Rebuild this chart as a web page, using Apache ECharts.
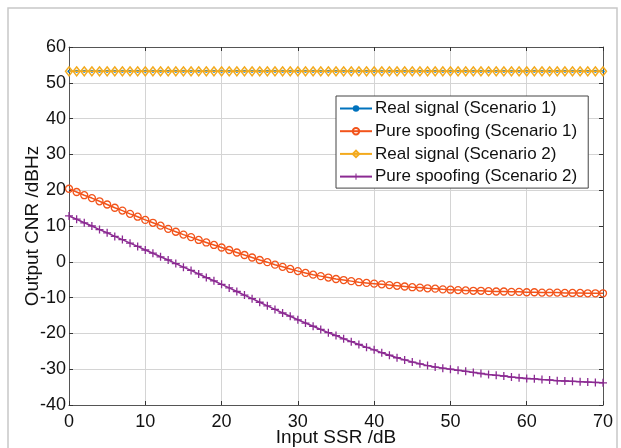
<!DOCTYPE html>
<html>
<head>
<meta charset="utf-8">
<script src="https://cdn.jsdelivr.net/npm/echarts@6/dist/echarts.min.js"></script>
<style>
html,body{margin:0;padding:0;background:#fff;}
#chart{width:621px;height:448px;}
</style>
</head>
<body>
<div id="chart"></div>
<script>
// Input SSR (dB)
var ssr = [];
for (var i = 0; i <= 70; i++) ssr.push(i);

var seriesNames = ['Real signal (Scenario 1)', 'Pure spoofing (Scenario 1)', 'Real signal (Scenario 2)', 'Pure spoofing (Scenario 2)'];

var realS1 = [53.2,53.2,53.2,53.2,53.2,53.2,53.2,53.2,53.2,53.2,53.2,53.2,53.2,53.2,53.2,53.2,53.2,53.2,53.2,53.2,53.2,53.2,53.2,53.2,53.2,53.2,53.2,53.2,53.2,53.2,53.2,53.2,53.2,53.2,53.2,53.2,53.2,53.2,53.2,53.2,53.2,53.2,53.2,53.2,53.2,53.2,53.2,53.2,53.2,53.2,53.2,53.2,53.2,53.2,53.2,53.2,53.2,53.2,53.2,53.2,53.2,53.2,53.2,53.2,53.2,53.2,53.2,53.2,53.2,53.2,53.2];

var spoofS1 = [20.4,19.5,18.6,17.8,16.9,16.0,15.1,14.3,13.4,12.6,
  11.7,10.9,10.1,9.2,8.4,7.6,6.9,6.1,5.4,4.7,
  4.0,3.3,2.6,1.9,1.2,0.5,-0.1,-0.8,-1.4,-2.0,
  -2.6,-3.1,-3.6,-4.0,-4.4,-4.8,-5.1,-5.4,-5.7,-5.9,
  -6.1,-6.3,-6.5,-6.7,-6.9,-7.1,-7.2,-7.4,-7.5,-7.7,
  -7.8,-7.9,-8.0,-8.1,-8.1,-8.2,-8.3,-8.3,-8.4,-8.4,
  -8.5,-8.5,-8.6,-8.6,-8.6,-8.7,-8.7,-8.7,-8.8,-8.8,-8.8];

var realS2 = [53.2,53.2,53.2,53.2,53.2,53.2,53.2,53.2,53.2,53.2,53.2,53.2,53.2,53.2,53.2,53.2,53.2,53.2,53.2,53.2,53.2,53.2,53.2,53.2,53.2,53.2,53.2,53.2,53.2,53.2,53.2,53.2,53.2,53.2,53.2,53.2,53.2,53.2,53.2,53.2,53.2,53.2,53.2,53.2,53.2,53.2,53.2,53.2,53.2,53.2,53.2,53.2,53.2,53.2,53.2,53.2,53.2,53.2,53.2,53.2,53.2,53.2,53.2,53.2,53.2,53.2,53.2,53.2,53.2,53.2,53.2];

var spoofS2 = [12.8,11.9,10.9,10.0,9.0,8.1,7.1,6.2,5.2,4.3,
  3.3,2.4,1.4,0.5,-0.5,-1.5,-2.4,-3.4,-4.4,-5.3,
  -6.3,-7.3,-8.3,-9.3,-10.3,-11.3,-12.3,-13.3,-14.3,-15.2,
  -16.2,-17.1,-18.0,-18.9,-19.8,-20.6,-21.5,-22.3,-23.1,-23.9,
  -24.6,-25.4,-26.1,-26.8,-27.4,-28.0,-28.5,-29.0,-29.4,-29.7,
  -30.0,-30.3,-30.6,-30.9,-31.2,-31.5,-31.7,-31.9,-32.2,-32.4,
  -32.6,-32.7,-32.9,-33.0,-33.2,-33.3,-33.4,-33.5,-33.6,-33.7,-33.8];

var xTicks = [0,10,20,30,40,50,60,70];
var yTicks = [-40,-30,-20,-10,0,10,20,30,40,50,60];

function pairs(ys){ return ssr.map(function(x,i){ return [x, ys[i]]; }); }

var colors = ['#0072BD', '#F2541B', '#F3AA1E', '#8B2A92'];
var plusPath = 'path://M4.2,0H5.8V4.2H10V5.8H5.8V10H4.2V5.8H0V4.2H4.2Z';
var FONT = 'Liberation Sans, Arial, sans-serif';

var chart = echarts.init(document.getElementById('chart'), null, {renderer:'canvas'});

var axisCommon = {
  type: 'value',
  axisLine: {show: true, onZero: false, lineStyle: {color: '#555', width: 1}},
  axisTick: {show: true, inside: true, length: 4, lineStyle: {color: '#333'}},
};

chart.setOption({
  animation: false,
  backgroundColor: '#fff',
  textStyle: {fontFamily: FONT},
  graphic: [{
    type: 'rect', silent: true, z: -10,
    shape: {x: 8, y: 8, width: 609, height: 460},
    style: {fill: 'none', stroke: '#c8c8c8', lineWidth: 1.5}
  }],
  grid: {left: 69, right: 18, top: 47, bottom: 43, show: false, outerBoundsMode: 'none', containLabel: false},
  legend: {
    orient: 'vertical',
    left: 336, top: 96,
    itemWidth: 32, itemHeight: 8,
    itemGap: 5.7,
    padding: [4, 11, 3, 3],
    backgroundColor: '#fff',
    borderColor: '#444', borderWidth: 1,
    textStyle: {fontFamily: FONT, fontSize: 17, color: '#111', padding: [0,0,0,-2]},
    data: seriesNames
  },
  xAxis: [
    Object.assign({}, axisCommon, {
      min: 0, max: 70, interval: 10, position: 'bottom',
      name: 'Input SSR /dB', nameLocation: 'middle', nameGap: 23, nameMoveOverlap: false,
      nameTextStyle: {fontFamily: FONT, fontSize: 19, color: '#111'},
      axisLabel: {color: '#111', fontSize: 18, fontFamily: FONT, margin: 8,
        formatter: function(v){ return xTicks.indexOf(v) >= 0 ? String(v) : ''; }},
      splitLine: {show: true, lineStyle: {color: '#d4d4d4', width: 1}}
    }),
    Object.assign({}, axisCommon, {
      min: 0, max: 70, interval: 10, position: 'top',
      axisLabel: {show: false}, splitLine: {show: false}
    })
  ],
  yAxis: [
    Object.assign({}, axisCommon, {
      min: -40, max: 60, interval: 10, position: 'left',
      name: 'Output CNR /dBHz', nameLocation: 'middle', nameGap: 27, nameMoveOverlap: false,
      nameTextStyle: {fontFamily: FONT, fontSize: 19, color: '#111'},
      axisLabel: {color: '#111', fontSize: 18, fontFamily: FONT, margin: 3,
        formatter: function(v){ return yTicks.indexOf(v) >= 0 ? String(v) : ''; }},
      splitLine: {show: true, lineStyle: {color: '#d4d4d4', width: 1}}
    }),
    Object.assign({}, axisCommon, {
      min: -40, max: 60, interval: 10, position: 'right',
      axisLabel: {show: false}, splitLine: {show: false}
    })
  ],
  series: [
    {
      name: seriesNames[0], type: 'line', data: pairs(realS1),
      xAxisIndex: 0, yAxisIndex: 0,
      symbol: 'circle', symbolSize: 3, showAllSymbol: true,
      lineStyle: {color: colors[0], width: 1.5},
      itemStyle: {color: colors[0]}, z: 2
    },
    {
      name: seriesNames[1], type: 'line', data: pairs(spoofS1),
      xAxisIndex: 0, yAxisIndex: 0,
      symbol: 'circle', symbolSize: 7, showAllSymbol: true,
      lineStyle: {color: colors[1], width: 1.5},
      itemStyle: {color: 'rgba(0,0,0,0)', borderColor: colors[1], borderWidth: 1.3}, z: 3
    },
    {
      name: seriesNames[2], type: 'line', data: pairs(realS2),
      xAxisIndex: 0, yAxisIndex: 0,
      symbol: 'diamond', symbolSize: [7, 9], showAllSymbol: true,
      lineStyle: {color: colors[2], width: 1.5},
      itemStyle: {color: 'rgba(0,0,0,0)', borderColor: colors[2], borderWidth: 1.5}, z: 4
    },
    {
      name: seriesNames[3], type: 'line', data: pairs(spoofS2),
      xAxisIndex: 0, yAxisIndex: 0,
      symbol: plusPath, symbolSize: 8, showAllSymbol: true,
      lineStyle: {color: colors[3], width: 1.5},
      itemStyle: {color: colors[3]}, z: 5
    }
  ]
});
</script>
</body>
</html>
